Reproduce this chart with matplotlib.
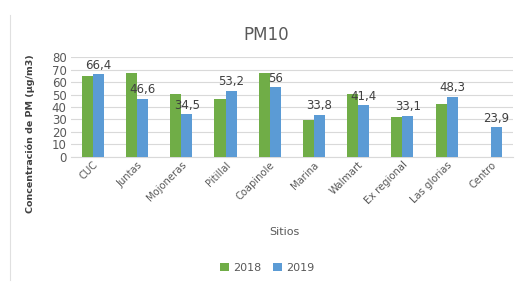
import matplotlib
matplotlib.use("Agg")
import matplotlib.pyplot as plt
from matplotlib.lines import Line2D
import numpy as np

sitios = ["CUC", "Juntas", "Mojoneras", "Pitillal", "Coapinole", "Marina",
          "Walmart", "Ex regional", "Las glorias", "Centro"]
pm10_2018 = [64.8, 67.3, 50.6, 46.6, 67.3, 29.8, 50.6, 32.2, 42.6, np.nan]
pm10_2019 = [66.4, 46.6, 34.5, 53.2, 56, 33.8, 41.4, 33.1, 48.3, 23.9]
etiquetas_2019 = ["66,4", "46,6", "34,5", "53,2", "56", "33,8", "41,4", "33,1", "48,3", "23,9"]
yticks = [0, 10, 20, 30, 40, 50, 60, 70, 80]

green = "#70AD47"
blue = "#5B9BD5"
gray = "#595959"

plt.rcParams['font.family'] = ['DejaVu Sans']
fig = plt.figure(figsize=(5.24, 2.88), dpi=100)
ax = fig.add_axes([0.135, 0.455, 0.844, 0.347])

x = np.arange(len(sitios))
w = 0.25
ax.bar(x - w/2, pm10_2018, w, color=green, label="2018", zorder=3)
ax.bar(x + w/2, pm10_2019, w, color=blue, label="2019", zorder=3)

for xi, v, t in zip(x, pm10_2019, etiquetas_2019):
    ax.text(xi + w/2, v + 1.8, t, ha="center", va="bottom", fontsize=8.5, color="#404040")

ax.set_xlim(-0.5, len(sitios) - 0.5)
ax.set_ylim(0, 80)
ax.set_yticks(yticks)
ax.tick_params(axis="y", labelsize=8.5, labelcolor=gray, length=0, pad=3)
ax.set_xticks(x)
ax.set_xticklabels(sitios, rotation=45, ha="right", rotation_mode="anchor",
                   fontsize=7.2, color=gray)
ax.tick_params(axis="x", length=0, pad=2)
ax.yaxis.grid(True, color="#D9D9D9", linewidth=0.8, zorder=0)
for s in ["top", "right", "left"]:
    ax.spines[s].set_visible(False)
ax.spines["bottom"].set_color("#D9D9D9")

fig.text(266/524, 1 - 35/288, "PM10", fontsize=12, color=gray, ha="center", va="center")
ax.set_ylabel("Concentración de PM (µg/m3)", fontsize=6.8, fontweight="bold",
              color="#404040")
ax.yaxis.set_label_coords(-0.081, 0.23)
ax.set_xlabel("Sitios", fontsize=8, color=gray)
ax.xaxis.set_label_coords((285 - 71) / 442, -0.70)

fig.legend(loc="center", bbox_to_anchor=(0.51, 0.07), ncol=2, frameon=False,
           fontsize=8, handlelength=0.8, handleheight=0.8, columnspacing=1.0,
           handletextpad=0.4, labelcolor=gray)

fig.add_artist(Line2D([10/524, 10/524], [1 - 15/288, 1 - 280/288],
                      transform=fig.transFigure, color="#E0E0E0", linewidth=0.8))

fig.savefig("out.png", dpi=100, facecolor="white")
